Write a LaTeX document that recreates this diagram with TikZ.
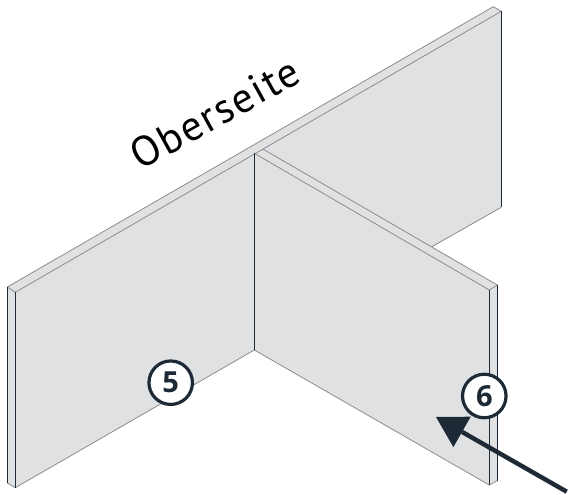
\documentclass[tikz,border=0pt]{standalone}
\usepackage{fontspec}
\setmainfont{Open Sans}
\newfontfamily\labelfont[LetterSpace=4]{PT Sans}
\usetikzlibrary{arrows.meta}
\definecolor{face}{HTML}{E0E1E3}
\definecolor{edgegray}{HTML}{8A8C8F}
\definecolor{ink}{HTML}{1D2A35}
\tikzset{
  softedge/.style={draw=edgegray,line width=0.8pt,line join=round},
  darkedge/.style={draw=ink,line width=1pt},
  callout/.style={circle,draw=ink,fill=white,line width=3.2pt,minimum size=43.5pt,inner sep=0pt,font=\bfseries\fontsize{29}{29}\selectfont,text=ink},
  pointer/.style={draw=ink,line width=4.5pt,-{Triangle[length=30pt,width=35pt,line width=0pt,fill=ink]}}
}
\begin{document}
\begin{tikzpicture}[x=1pt,y=-1pt]
\useasboundingbox (0,0) rectangle (568,495);
% long panel
\coordinate (LbTL) at (7.3,287);
\coordinate (LfTL) at (15.3,292.3);
\coordinate (LfBL) at (15.3,487.7);
\coordinate (LbBL) at (7.3,483);
\coordinate (LbTR) at (493.3,6.7);
\coordinate (LfTR) at (501.3,11.3);
\coordinate (LfBR) at (501.3,207.3);
\coordinate (Mid) at (254.3,350);
\coordinate (MidT) at (254.3,153.3);
\coordinate (MidB) at (263.3,149.3);
\coordinate (Hid) at (432,246.6);
% cross panel
\coordinate (CfTR) at (489.3,290);
\coordinate (CfBR) at (489.3,485);
\coordinate (CbTR) at (497.3,285);
\coordinate (CbBR) at (497.3,480.7);
% fills
\fill[face] (LbTL) -- (LbTR) -- (LfTR) -- (LfBR) -- (Hid) -- (CbTR) -- (CbBR) -- (CfBR) -- (Mid) -- (LfBL) -- (LbBL) -- cycle;
% soft edges
\draw[softedge] (LbBL) -- (LfBL) -- (Mid) -- (CfBR) -- (CbBR);
\draw[softedge] (LbTL) -- (LbTR) -- (LfTR);
\draw[softedge] (LbTL) -- (LfTL) -- (LfTR);
\draw[softedge] (LfBR) -- (Hid);
\draw[softedge] (MidT) -- (CfTR) -- (CbTR) -- (MidB);
% dark edges
\draw[darkedge] (LbTL) -- (LbBL);
\draw[darkedge] (LfTL) -- (LfBL);
\draw[darkedge] (LfTR) -- (LfBR);
\draw[darkedge] (MidT) -- (Mid);
\draw[darkedge] (CfTR) -- (CfBR);
\draw[darkedge] (CbTR) -- (CbBR);
% label
\node[rotate=29,font=\labelfont\fontsize{42}{42}\selectfont,text=black,inner sep=0pt] (top) at (215,113) {Oberseite};
% callouts
\node[callout] (five) at (170.7,382.7) {5};
\node[callout] (six) at (484.3,396) {6};
\coordinate (start) at (566.7,491.7);
\coordinate (tip) at (436,417);
\draw[pointer] (start) -- (tip);
\end{tikzpicture}
\end{document}
